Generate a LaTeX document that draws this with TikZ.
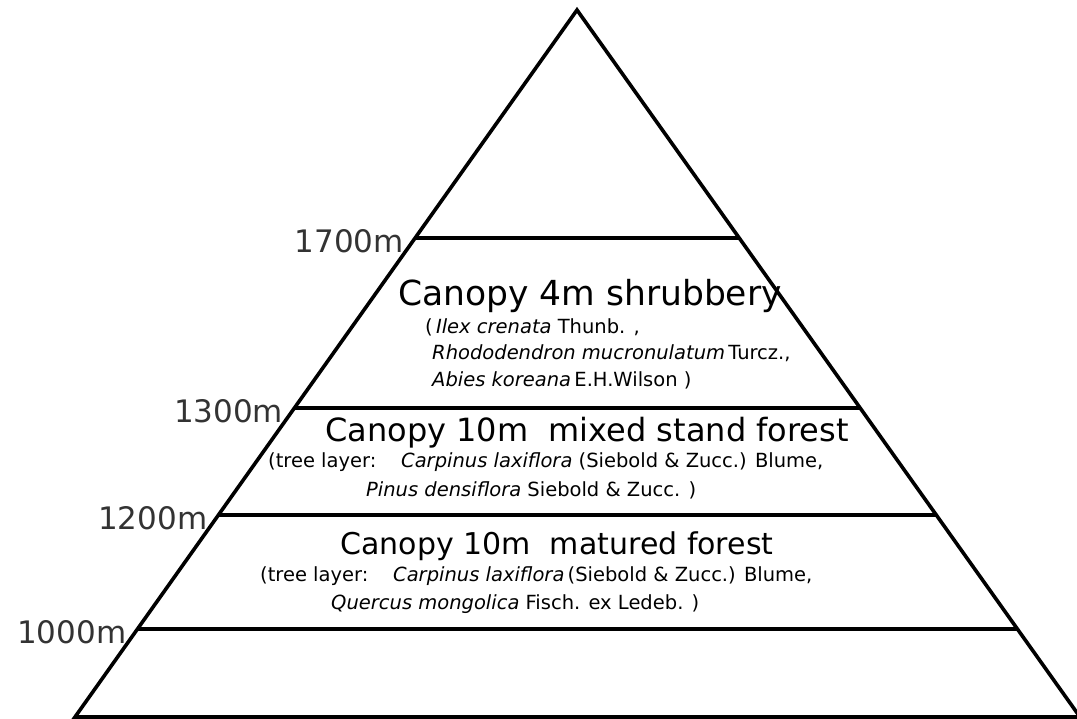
\documentclass[tikz,border=0pt]{standalone}
\usepackage{fontspec}
\setmainfont{DejaVu Sans}
\usetikzlibrary{calc}

\begin{document}
\begin{tikzpicture}[x=1pt,y=-1pt,
  edge/.style={line width=3.6pt,line join=miter},
  band/.style={line width=3.6pt},
  altlabel/.style={anchor=east,inner sep=0pt,text=black!80,
    font=\fontsize{31}{36}\selectfont},
  title/.style={inner sep=0pt,font=\fontsize{32}{36}\selectfont},
  note/.style={anchor=west,inner sep=0pt,font=\fontsize{19.5}{22}\selectfont}]
  \path[use as bounding box] (0,0) rectangle (1077,719);
  % outline of the mountain
  \coordinate (top) at (577,10);
  \coordinate (baseL) at (75,717);
  \coordinate (baseR) at (1080,717);
  \draw[edge] (baseL) -- (top) -- (baseR) -- cycle;
  % altitude bands
  \foreach \y/\alt in {238/1700,408/1300,515/1200,629/1000}{
    \pgfmathsetmacro\t{(\y-10)/707}
    \coordinate (lvl\alt L) at ($(top)!\t!(baseL)$);
    \coordinate (lvl\alt R) at ($(top)!\t!(baseR)$);
    \draw[band] (lvl\alt L) -- (lvl\alt R);
    \node[altlabel] (lab\alt) at ($(lvl\alt L)+(-11,3)$) {\alt m};
  }
  % 1300m - 1700m
  \node[title,font=\fontsize{34.5}{40}\selectfont] (shrubTitle) at (590,296)
    {Canopy 4m shrubbery};
  \node[note] (shrubA) at (425,327) {(\,\textit{Ilex crenata} Thunb. ,};
  \node[note] (shrubB) at (432,353) {\textit{Rhododendron mucronulatum}\,Turcz.,};
  \node[note] (shrubC) at (432,380) {\textit{Abies koreana}\,E.H.Wilson )};
  % 1200m - 1300m
  \node[title] (mixedTitle) at (587,433) {Canopy 10m\ \ mixed stand forest};
  \node[note] (mixedA) at (268,462)
    {(tree layer:\ \ \ \ \textit{Carpinus laxiflora} (Siebold \& Zucc.) Blume,};
  \node[note] (mixedB) at (366,490) {\textit{Pinus densiflora} Siebold \& Zucc. )};
  % 1000m - 1200m
  \node[title,font=\fontsize{30}{36}\selectfont] (maturedTitle) at (557,546)
    {Canopy 10m\ \ matured forest};
  \node[note] (maturedA) at (260,576)
    {(tree layer:\ \ \ \ \textit{Carpinus laxiflora}\,(Siebold \& Zucc.) Blume,};
  \node[note] (maturedB) at (331,604) {\textit{Quercus mongolica} Fisch. ex Ledeb. )};
\end{tikzpicture}
\end{document}
